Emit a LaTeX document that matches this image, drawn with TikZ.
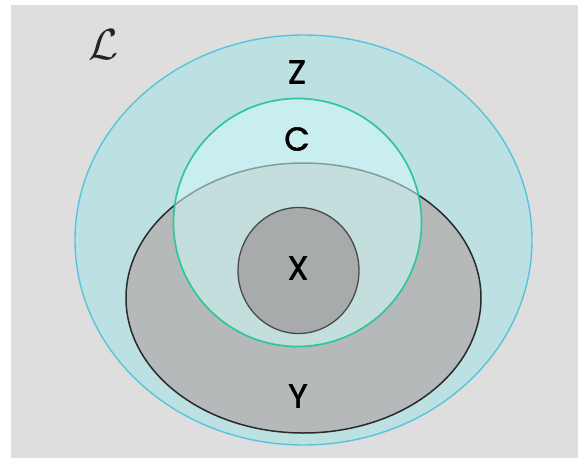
\documentclass[tikz,border=0pt]{standalone}
\usepackage{fontspec}
\newfontfamily\lblfont[FakeBold=1.6]{Poppins}
\definecolor{bggray}{HTML}{DEDEDE}
\definecolor{zfill}{HTML}{BDE0E3}
\definecolor{zline}{HTML}{56C5DC}
\definecolor{cfill}{HTML}{D2FBFB}
\definecolor{cline}{HTML}{2FC79A}
\definecolor{yfill}{HTML}{B5B9B9}
\definecolor{yline}{HTML}{2A2A2A}
\definecolor{xfill}{HTML}{A7ABAB}
\definecolor{xline}{HTML}{4A4A4A}
\tikzset{
  lbl/.style={font=\lblfont\fontsize{33}{33}\selectfont, text=black, inner sep=0pt},
}
\begin{document}
\begin{tikzpicture}[x=1pt,y=-1pt]
\useasboundingbox (0,0) rectangle (578,458);
\fill[bggray] (11,5) rectangle (578,458);
% Z
\draw[fill=zfill, draw=zline, line width=1.4pt] (303.5,240) ellipse [x radius=228.5, y radius=205];
% Y
\draw[fill=yfill, draw=yline, line width=1.5pt] (303.5,298) ellipse [x radius=177.5, y radius=135];
% C
\draw[fill=cfill, fill opacity=0.55, draw=cline, line width=1.7pt] (297.5,222.5) circle [radius=124];
% X
\draw[fill=xfill, draw=xline, line width=1.3pt] (298.5,270.5) ellipse [x radius=60.5, y radius=63];
% labels
\node[lbl] (Zl) at (297,72) {Z};
\node[lbl] (Cl) at (297,139) {C};
\node[lbl] (Xl) at (298,268) {X};
\node[lbl] (Yl) at (298,396) {Y};
\node[inner sep=0pt, scale=2.1, text={rgb,255:red,35;green,35;blue,35}] (Ll) at (104,45) {\fontsize{20}{20}\selectfont$\mathcal{L}$};
\end{tikzpicture}
\end{document}
